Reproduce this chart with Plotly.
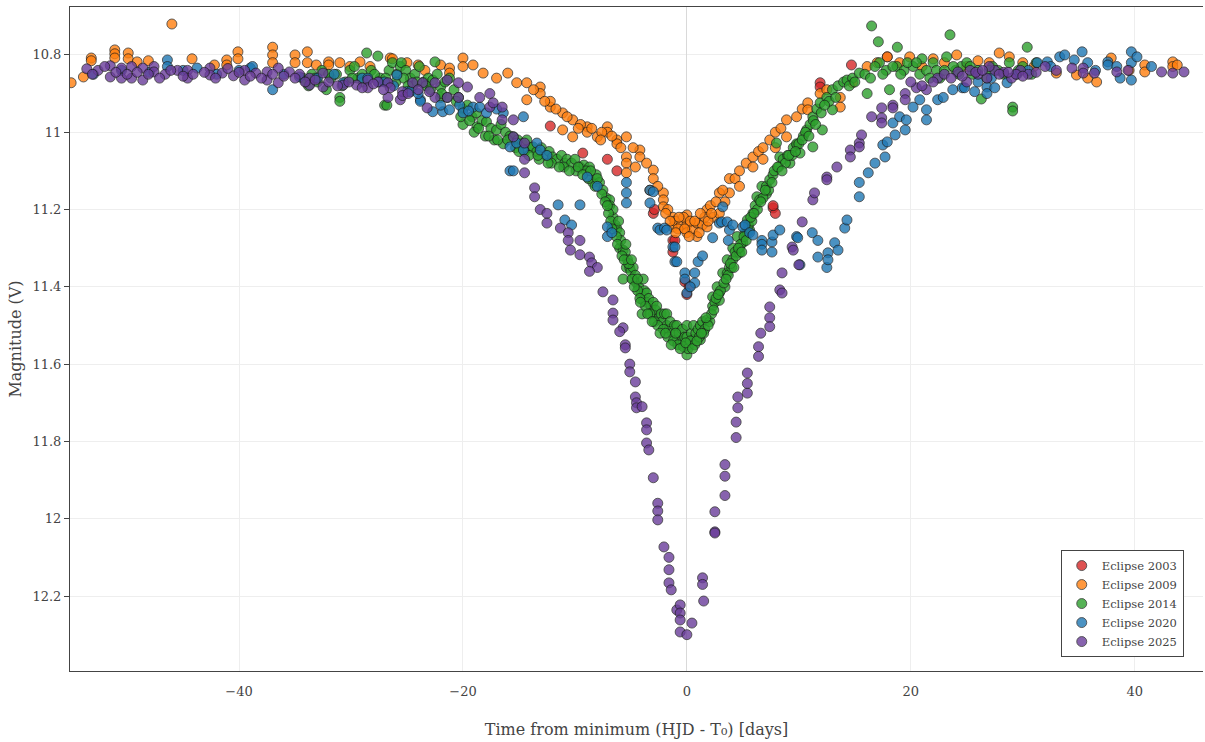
import plotly.graph_objects as go

# ---------------- data ----------------
x_2003 = [-12.2, -9.3, -7.1, -6.25, -3.0, -1.25, -1.07, -1.25, -0.18, 0.0,
          7.7, 7.9, 7.7, 9.8, 11.9, 11.9, 14.7, 17.9, -2.9, 0.2]
y_2003 = [10.984, 11.054, 11.07, 11.10, 11.21, 11.28, 11.28, 11.31, 11.387, 11.42,
          11.196, 11.21, 11.19, 11.033, 10.872, 10.883, 10.826, 10.805, 11.20, 11.40]

x_2009 = [-55.0, -53.9, -53.2, -53.2, -51.1, -51.1, -51.1, -49.9, -49.9, -49.1,
          -48.1, -46.0, -44.2, -42.2, -41.1, -41.1, -40.1, -40.1, -37.0, -37.0,
          -37.0, -35.0, -35.0, -33.9, -33.9, -33.1, -32.0, -32.0, -31.0, -30.1,
          -29.2, -28.3, -26.5, -26.3, -25.0, -24.0, -23.4, -22.0, -21.2, -21.2,
          -20.0, -20.0, -19.1, -18.2, -17.0, -16.0, -15.2, -14.3, -14.3, -13.1,
          -13.1, -12.2, -12.2, -11.1, -11.1, -10.2, -10.2, -8.9, -8.9, -8.0,
          -7.1, -7.1, -6.25, -6.25, -5.4, -5.4, -5.4, -5.4, -4.2, -4.2,
          -3.0, -3.0, -2.1, -2.1, -2.1, -1.25, -1.25, -1.07, -0.5, 0.0,
          0.0, 0.0, 0.5, 0.9, 0.9, 1.4, 1.8, 1.8, 2.4, 2.9,
          2.9, 3.4, 3.8, 3.8, 4.3, 4.7, 4.7, 5.3, 5.9, 5.9,
          6.4, 6.8, 6.8, 7.4, 7.9, 7.9, 8.4, 8.9, 8.9, 9.8,
          10.3, 10.8, 10.8, 11.9, 12.5, 13.7, 13.7, 14.8, 16.1, 17.0,
          17.9, 19.0, 19.9, 21.0, 22.0, 23.0, 24.1, 25.0, 26.0, 27.0,
          27.9, 28.8, 30.0, 31.0, 33.0, 34.8, 36.6, 37.9, 40.9, 40.9,
          43.4, 43.4, 43.8, 39.5, 35.8, -9.5, -7.6, -3.6, -2.6, -1.7,
          -0.8, -0.3, 0.3, 1.1, 1.6, 2.1, 2.6, 3.2, -4.8, -3.3,
          -1.9, -1.5, -1.0, -0.7, -0.2, 0.2, 0.7, 1.2, 1.9, 2.2,
          -13.7, -12.7, -11.7, -10.7, -9.7, -8.5, -7.7, -6.7, -5.9, -4.6]
y_2009 = [10.872, 10.857, 10.808, 10.815, 10.787, 10.797, 10.808, 10.795, 10.81, 10.818,
          10.815, 10.72, 10.81, 10.826, 10.813, 10.826, 10.792, 10.81, 10.78, 10.80,
          10.82, 10.80, 10.82, 10.792, 10.82, 10.826, 10.818, 10.826, 10.82, 10.83,
          10.818, 10.83, 10.808, 10.81, 10.82, 10.826, 10.84, 10.826, 10.834, 10.847,
          10.808, 10.83, 10.826, 10.847, 10.86, 10.847, 10.872, 10.872, 10.916, 10.883,
          10.90, 10.935, 10.92, 10.95, 10.994, 10.968, 11.012, 10.986, 11.0, 11.012,
          10.986, 11.0, 11.02, 11.03, 11.012, 11.064, 11.08, 11.105, 11.046, 11.064,
          11.098, 11.12, 11.157, 11.175, 11.193, 11.22, 11.245, 11.23, 11.24, 11.214,
          11.24, 11.26, 11.25, 11.235, 11.27, 11.24, 11.20, 11.245, 11.22, 11.157,
          11.21, 11.18, 11.12, 11.157, 11.12, 11.10, 11.14, 11.08, 11.064, 11.09,
          11.05, 11.04, 11.07, 11.02, 11.0, 11.04, 10.99, 10.968, 11.012, 10.96,
          10.94, 10.924, 10.942, 10.90, 10.89, 10.91, 10.935, 10.872, 10.83, 10.82,
          10.805, 10.82, 10.805, 10.83, 10.81, 10.82, 10.80, 10.83, 10.815, 10.82,
          10.795, 10.805, 10.82, 10.83, 10.847, 10.852, 10.87, 10.808, 10.826, 10.844,
          10.818, 10.83, 10.826, 10.84, 10.86, 10.98, 11.0, 11.08, 11.14, 11.20,
          11.25, 11.22, 11.23, 11.26, 11.22, 11.19, 11.18, 11.15, 11.04, 11.15,
          11.21, 11.23, 11.26, 11.22, 11.25, 11.27, 11.23, 11.21, 11.23, 11.21,
          10.89, 10.92, 10.94, 10.96, 10.99, 10.99, 11.02, 11.01, 11.04, 11.09]

x_2014 = [-34.3, -33.8, -33.5, -33.0, -32.6, -32.2, -31.8, -31.3, -31.0, -31.0,
          -30.5, -30.1, -29.7, -29.4, -29.0, -28.6, -28.2, -27.6, -27.4, -27.0,
          -26.8, -26.6, -26.3, -25.9, -25.6, -25.5, -25.1, -24.7, -24.5, -24.3,
          -23.9, -23.5, -23.1, -22.7, -22.5, -22.3, -22.0, -22.0, -21.6, -21.2,
          -20.8, -20.4, -20.0, -20.0, -19.6, -19.2, -18.8, -18.75, -18.3, -17.9,
          -17.5, -17.0, -16.6, -16.2, -15.8, -15.5, -15.1, -14.7, -14.3, -13.9,
          -13.75, -13.4, -13.0, -12.6, -12.3, -12.0, -11.6, -11.2, -10.9, -10.7,
          -10.3, -10.0, -9.55, -9.2, -8.7, -8.4, -8.1, -7.8, -7.5, -7.2,
          -6.9, -6.9, -6.6, -6.6, -6.4, -6.25, -6.0, -6.0, -5.9, -5.7,
          -5.7, -5.5, -5.4, -5.3, -5.1, -5.0, -4.8, -4.8, -4.6, -4.5,
          -4.3, -4.1, -4.0, -3.9, -3.9, -3.8, -3.6, -3.6, -3.4, -3.2,
          -3.0, -3.0, -2.8, -2.7, -2.5, -2.3, -2.2, -2.0, -1.8, -1.8,
          -1.6, -1.5, -1.3, -1.1, -0.9, -0.9, -0.7, -0.5, -0.4, -0.2,
          0.0, 0.0, 0.0, 0.2, 0.4, 0.6, 0.6, 0.8, 1.0, 1.2,
          1.2, 1.4, 1.6, 1.8, 2.05, 2.3, 2.3, 2.5, 2.7, 2.9,
          2.9, 3.2, 3.4, 3.6, 3.6, 3.8, 4.1, 4.1, 4.3, 4.5,
          4.7, 4.7, 5.0, 5.2, 5.4, 5.4, 5.6, 5.9, 6.1, 6.25,
          6.5, 6.7, 7.1, 7.1, 7.4, 7.7, 8.0, 8.3, 8.6, 9.0,
          9.2, 9.5, 9.8, 10.1, 10.4, 10.7, 11.0, 11.25, 11.25, 11.6,
          11.9, 12.1, 12.5, 13.0, 13.0, 13.5, 14.0, 14.3, 14.8, 15.4,
          16.1, 16.5, 17.1, 17.2, 17.8, 18.1, 18.75, 18.8, 19.4, 20.2,
          20.8, 21.4, 22.0, 22.6, 23.2, 23.5, 24.0, 24.5, 25.0, 25.5,
          26.0, 26.3, 26.8, 27.3, 27.8, 28.3, 28.8, 29.1, 29.1, 29.6,
          30.0, 30.4, 30.8, 31.2, 15.9, 16.8, 19.7, 21.0, 22.3, 23.8,
          -9.0, -8.8, -8.2, -7.6, -7.0, -6.8, -6.3, -5.8, -5.2, -4.9,
          -4.4, -4.2, -3.7, -3.3, -2.9, -2.6, -2.1, -1.7, -1.2, -0.8,
          -0.3, 0.1, 0.3, 0.7, 1.1, 1.5, 1.9, 2.2, 2.6, 3.0,
          3.3, 3.7, 4.0, 4.4, 4.8, 5.1, 5.5, 5.8, 6.3, 6.8,
          7.3, 7.8, 8.2, 8.8, 9.4, 10.0, 10.6, 11.3, 12.0, 12.7,
          -19.0, -18.0, -17.2, -16.4, -15.3, -14.5, -13.2, -12.1, -11.0, -9.9,
          -34.0, -33.2, -32.0, -30.8, -29.9, -28.9, -27.9, -26.9, -26.0, -25.3,
          -24.9, -24.1, -23.3, -22.9, -21.9, -21.4, -20.6, -20.2, -19.4, -18.6,
          -17.7, -16.9, -16.0, -15.0, -14.1, -13.3, -12.4, -11.4, -10.5, -9.7,
          -9.3, -8.6, -8.0, -7.3, -7.1, -6.7, -6.2, -6.1, -5.6, -5.45,
          -4.95, -4.7, -4.4, -4.15, -3.5, -3.1, -2.4, -1.9, -1.4, -1.0,
          -0.6, -0.1, 0.5, 0.9, 1.3, 1.7, 2.4, 2.8, 3.5, 3.9,
          4.2, 4.6, 4.9, 5.3, 5.7, 6.0, 6.6, 7.0, 7.6, 8.1,
          8.5, 9.1, 9.7, 10.3, 10.9, 11.5, 12.3, 13.3, 14.5, 15.0,
          16.4, 17.5, 18.4, 19.1, 20.5, 21.7, 23.0, 24.3, 25.3, 27.0]
y_2014 = [10.86, 10.88, 10.85, 10.87, 10.84, 10.89, 10.86, 10.85, 10.91, 10.92,
          10.87, 10.84, 10.83, 10.86, 10.85, 10.795, 10.84, 10.803, 10.86, 10.93,
          10.93, 10.84, 10.82, 10.85, 10.83, 10.82, 10.84, 10.86, 10.88, 10.85,
          10.83, 10.87, 10.86, 10.865, 10.818, 10.85, 10.883, 10.91, 10.87, 10.86,
          10.89, 10.91, 10.94, 10.98, 10.93, 10.96, 10.95, 10.986, 10.97, 10.973,
          10.99, 10.994, 10.98, 11.0, 11.01, 11.012, 11.02, 11.03, 11.02, 11.04,
          11.038, 11.05, 11.04, 11.06, 11.05, 11.064, 11.07, 11.06, 11.08, 11.07,
          11.08, 11.07, 11.09, 11.085, 11.09, 11.13, 11.11, 11.13, 11.15, 11.17,
          11.175, 11.19, 11.22, 11.20, 11.24, 11.25, 11.26, 11.30, 11.28, 11.305,
          11.38, 11.31, 11.35, 11.33, 11.35, 11.36, 11.35, 11.38, 11.37, 11.39,
          11.40, 11.42, 11.47, 11.38, 11.435, 11.41, 11.416, 11.44, 11.43, 11.45,
          11.47, 11.44, 11.46, 11.45, 11.48, 11.47, 11.49, 11.47, 11.47, 11.50,
          11.51, 11.49, 11.52, 11.50, 11.537, 11.50, 11.52, 11.54, 11.51, 11.53,
          11.576, 11.50, 11.53, 11.55, 11.52, 11.537, 11.50, 11.52, 11.51, 11.50,
          11.537, 11.49, 11.51, 11.486, 11.49, 11.45, 11.426, 11.44, 11.40, 11.416,
          11.435, 11.364, 11.40, 11.365, 11.33, 11.35, 11.33, 11.30, 11.31, 11.27,
          11.30, 11.312, 11.286, 11.26, 11.26, 11.227, 11.253, 11.21, 11.19, 11.167,
          11.175, 11.14, 11.14, 11.16, 11.123, 11.11, 11.028, 11.064, 11.07, 11.06,
          11.08, 11.04, 11.03, 11.054, 11.01, 10.994, 10.98, 10.96, 11.038, 10.94,
          10.924, 10.994, 10.91, 10.89, 10.942, 10.88, 10.87, 10.865, 10.86, 10.847,
          10.90, 10.725, 10.766, 10.82, 10.84, 10.89, 10.83, 10.78, 10.84, 10.83,
          10.85, 10.84, 10.82, 10.86, 10.805, 10.748, 10.84, 10.83, 10.82, 10.85,
          10.84, 10.914, 10.86, 10.83, 10.84, 10.85, 10.82, 10.935, 10.945, 10.84,
          10.83, 10.78, 10.85, 10.82, 10.85, 10.83, 10.82, 10.81, 10.84, 10.83,
          11.10, 11.12, 11.14, 11.16, 11.21, 11.23, 11.27, 11.32, 11.34, 11.38,
          11.41, 11.43, 11.45, 11.47, 11.49, 11.50, 11.51, 11.53, 11.54, 11.55,
          11.555, 11.56, 11.54, 11.55, 11.53, 11.52, 11.50, 11.47, 11.43, 11.41,
          11.39, 11.37, 11.35, 11.32, 11.29, 11.27, 11.24, 11.23, 11.20, 11.17,
          11.15, 11.10, 11.09, 11.08, 11.06, 11.03, 11.0, 10.97, 10.95, 10.92,
          11.0, 11.01, 11.02, 11.03, 11.04, 11.05, 11.07, 11.08, 11.09, 11.10,
          10.87, 10.86, 10.85, 10.88, 10.86, 10.87, 10.85, 10.86, 10.87, 10.86,
          10.88, 10.87, 10.88, 10.89, 10.90, 10.91, 10.92, 10.96, 10.97, 10.99,
          11.01, 11.02, 11.02, 11.05, 11.06, 11.06, 11.08, 11.09, 11.10, 11.09,
          11.11, 11.10, 11.12, 11.18, 11.19, 11.25, 11.29, 11.23, 11.33, 11.29,
          11.33, 11.40, 11.38, 11.44, 11.47, 11.49, 11.52, 11.52, 11.55, 11.52,
          11.56, 11.545, 11.56, 11.54, 11.52, 11.48, 11.46, 11.42, 11.38, 11.34,
          11.35, 11.30, 11.31, 11.28, 11.22, 11.21, 11.18, 11.15, 11.13, 11.09,
          11.10, 11.06, 11.05, 11.02, 11.01, 10.98, 10.93, 10.91, 10.88, 10.87,
          10.86, 10.85, 10.83, 10.85, 10.82, 10.86, 10.84, 10.85, 10.83, 10.84]

x_2020 = [-53.0, -50.5, -48.0, -46.4, -46.4, -45.0, -43.75, -42.0, -40.0, -39.0,
          -38.8, -37.0, -36.0, -34.6, -33.0, -31.5, -30.7, -29.0, -27.5, -25.9,
          -25.0, -24.7, -23.8, -23.8, -22.7, -21.8, -21.2, -20.3, -20.0, -19.1,
          -18.5, -17.9, -16.4, -15.8, -15.8, -15.5, -15.2, -14.6, -14.6, -13.4,
          -13.1, -11.5, -10.9, -10.3, -9.55, -8.9, -8.0, -7.1, -7.1, -5.4,
          -5.4, -5.4, -3.3, -3.3, -3.0, -2.6, -2.4, -2.0, -1.8, -1.25,
          -1.07, -1.07, -0.9, -0.18, -0.18, 0.0, 0.7, 0.7, 1.0, 1.4,
          2.3, 2.9, 3.1, 3.2, 3.6, 3.7, 3.8, 4.1, 5.0, 5.2,
          5.6, 5.9, 6.7, 6.7, 6.7, 7.6, 7.6, 7.7, 8.3, 9.8,
          9.9, 10.1, 11.2, 11.7, 11.7, 12.5, 12.6, 12.6, 13.2, 13.5,
          14.1, 14.3, 15.4, 15.4, 16.2, 16.8, 17.5, 17.7, 17.9, 18.4,
          18.6, 19.0, 19.5, 19.6, 20.2, 20.8, 21.4, 21.4, 22.4, 23.75,
          24.6, 24.8, 25.7, 26.8, 26.8, 27.5, 28.6, 31.3, 32.2, 33.3,
          33.75, 34.6, 35.3, 35.8, 37.6, 37.6, 38.4, 38.7, 39.7, 39.7,
          39.7, 40.2, 29.5, 30.5, 32.5, 36.5, 41.5, 26.0, 27.2, 22.9,
          -28.5, -27.0, -26.2, -24.0, -22.0, -19.5, -17.0, -12.5, -6.7, 0.3]
y_2020 = [10.85, 10.84, 10.845, 10.813, 10.83, 10.84, 10.834, 10.85, 10.84, 10.834,
          10.83, 10.89, 10.85, 10.857, 10.86, 10.85, 10.872, 10.86, 10.87, 10.852,
          10.895, 10.895, 10.916, 10.92, 10.947, 10.947, 10.942, 10.93, 10.95, 10.935,
          10.935, 10.95, 10.95, 11.038, 11.10, 11.10, 11.028, 10.96, 11.046, 11.028,
          11.046, 11.188, 11.227, 11.24, 11.188, 11.116, 11.14, 11.245, 11.27, 11.13,
          11.157, 11.183, 11.15, 11.183, 11.154, 11.248, 11.253, 11.248, 11.253, 11.297,
          11.297, 11.335, 11.335, 11.364, 11.38, 11.416, 11.364, 11.39, 11.335, 11.32,
          11.273, 11.235, 11.232, 11.193, 11.232, 11.28, 11.253, 11.24, 11.245, 11.24,
          11.26, 11.266, 11.28, 11.29, 11.305, 11.284, 11.31, 11.266, 11.253, 11.27,
          11.273, 11.343, 11.26, 11.28, 11.323, 11.35, 11.312, 11.33, 11.286, 11.305,
          11.248, 11.227, 11.13, 11.167, 11.105, 11.08, 11.033, 11.064, 11.025, 10.976,
          11.007, 10.96, 10.994, 10.968, 10.935, 10.916, 10.942, 10.968, 10.916, 10.89,
          10.885, 10.885, 10.895, 10.883, 10.9, 10.885, 10.872, 10.82, 10.818, 10.805,
          10.80, 10.813, 10.792, 10.82, 10.818, 10.826, 10.83, 10.86, 10.792, 10.865,
          10.82, 10.805, 10.85, 10.84, 10.83, 10.84, 10.83, 10.87, 10.86, 10.91,
          10.86, 10.87, 10.88, 10.90, 10.93, 10.945, 10.94, 11.06, 11.26, 11.40]

x_2025 = [-53.6, -52.6, -51.5, -51.5, -50.5, -50.5, -49.6, -49.6, -48.6, -48.6,
          -47.6, -47.6, -46.6, -45.5, -44.6, -44.6, -42.6, -42.6, -41.5, -40.5,
          -39.5, -39.5, -38.5, -37.5, -37.5, -36.5, -36.5, -35.5, -34.6, -33.7,
          -33.7, -32.5, -32.5, -30.7, -29.5, -28.5, -28.5, -27.6, -26.7, -26.5,
          -26.7, -25.6, -25.4, -25.4, -24.5, -23.6, -23.2, -22.5, -22.5, -21.4,
          -21.4, -20.4, -20.4, -19.6, -18.5, -17.6, -17.6, -17.3, -16.5, -16.5,
          -15.5, -15.5, -14.5, -14.5, -14.5, -13.6, -13.6, -13.1, -12.5, -12.5,
          -11.3, -10.6, -10.6, -10.4, -9.55, -9.55, -8.7, -8.5, -8.0, -8.7,
          -7.5, -6.6, -6.6, -6.6, -5.7, -6.0, -5.5, -5.5, -5.1, -5.1,
          -4.6, -4.6, -4.5, -4.5, -4.0, -3.6, -3.6, -3.6, -3.4, -3.0,
          -2.6, -2.6, -2.6, -2.05, -1.6, -1.6, -1.6, -1.4, -0.9, -0.6,
          -0.6, -0.6, -0.6, 0.0, 0.45, 1.4, 1.4, 1.5, 2.5, 2.5,
          2.5, 3.4, 3.4, 3.4, 4.4, 4.4, 4.55, 4.55, 5.4, 5.4,
          5.4, 6.4, 6.4, 6.6, 7.4, 7.4, 7.4, 8.3, 8.5, 8.5,
          9.4, 9.5, 10.0, 10.3, 11.25, 11.4, 12.5, 12.5, 13.4, 14.6,
          14.6, 15.4, 15.4, 15.6, 16.5, 17.4, 17.4, 17.4, 18.4, 18.4,
          19.5, 19.5, 20.5, 21.4, 22.4, 24.2, 25.3, 26.0, 26.8, 27.5,
          28.3, 29.0, 29.8, 30.5, 31.2, 32.0, 33.0, 34.4, 35.4, 35.4,
          36.4, 38.4, 39.4, 42.4, 43.4, 44.4, 23.0, 25.0, 27.0, 29.4,
          -53.1, -52.0, -51.0, -50.0, -49.1, -48.1, -47.1, -46.1, -45.0, -44.1,
          -43.1, -42.1, -41.0, -40.0, -39.0, -38.0, -37.0, -36.0, -35.0, -34.1,
          -33.2, -32.0, -31.2, -30.2, -29.0, -28.0, -27.1, -24.9, -24.0, -23.0,
          20.0, 21.0, 22.0, 23.6, 24.6, 25.8, 26.4, 27.9, 28.7, 30.0]
y_2025 = [10.836, 10.84, 10.828, 10.857, 10.834, 10.86, 10.83, 10.86, 10.834, 10.865,
          10.83, 10.844, 10.85, 10.84, 10.84, 10.86, 10.834, 10.852, 10.847, 10.854,
          10.84, 10.865, 10.847, 10.844, 10.865, 10.834, 10.872, 10.844, 10.85, 10.86,
          10.878, 10.847, 10.883, 10.878, 10.878, 10.865, 10.885, 10.87, 10.872, 10.885,
          10.91, 10.916, 10.895, 10.905, 10.872, 10.872, 10.937, 10.872, 10.91, 10.865,
          10.91, 10.872, 10.91, 10.883, 10.91, 10.90, 10.935, 10.924, 10.935, 10.968,
          10.968, 11.012, 11.028, 11.07, 11.105, 11.144, 11.167, 11.2, 11.21, 11.235,
          11.248, 11.26, 11.28, 11.305, 11.28, 11.317, 11.323, 11.338, 11.35, 11.36,
          11.413, 11.434, 11.468, 11.486, 11.506, 11.516, 11.55, 11.558, 11.60, 11.62,
          11.646, 11.685, 11.70, 11.713, 11.71, 11.752, 11.77, 11.804, 11.822, 11.894,
          11.96, 11.98, 12.003, 12.073, 12.10, 12.132, 12.166, 12.184, 12.236, 12.223,
          12.244, 12.262, 12.293, 12.30, 12.27, 12.153, 12.17, 12.213, 12.034, 11.982,
          12.037, 11.86, 11.89, 11.94, 11.75, 11.79, 11.713, 11.685, 11.623, 11.675,
          11.65, 11.555, 11.58, 11.52, 11.452, 11.48, 11.503, 11.408, 11.364, 11.416,
          11.297, 11.305, 11.343, 11.232, 11.175, 11.157, 11.116, 11.123, 11.09, 11.046,
          11.064, 11.028, 11.038, 11.007, 10.96, 10.937, 10.963, 10.976, 10.93, 10.937,
          10.90, 10.916, 10.885, 10.89, 10.86, 10.844, 10.84, 10.85, 10.86, 10.84,
          10.845, 10.86, 10.84, 10.85, 10.845, 10.83, 10.84, 10.834, 10.834, 10.847,
          10.847, 10.844, 10.84, 10.844, 10.847, 10.844, 10.85, 10.87, 10.83, 10.85,
          10.85, 10.83, 10.845, 10.85, 10.845, 10.85, 10.86, 10.84, 10.855, 10.85,
          10.845, 10.86, 10.835, 10.845, 10.855, 10.86, 10.85, 10.855, 10.86, 10.87,
          10.865, 10.87, 10.88, 10.87, 10.885, 10.875, 10.89, 10.90, 10.89, 10.895,
          10.87, 10.88, 10.87, 10.86, 10.855, 10.845, 10.84, 10.85, 10.845, 10.855]

series_names = ["Eclipse 2003", "Eclipse 2009", "Eclipse 2014", "Eclipse 2020", "Eclipse 2025"]
series_colors = ["#d62728", "#ff7f0e", "#2ca02c", "#1f77b4", "#6a3d9a"]
series_x = [x_2003, x_2009, x_2014, x_2020, x_2025]
series_y = [y_2003, y_2009, y_2014, y_2020, y_2025]

# ---------------- figure ----------------
FONT = "DejaVu Serif"
fig = go.Figure()
for name, color, xs, ys in zip(series_names, series_colors, series_x, series_y):
    fig.add_trace(go.Scatter(
        x=xs, y=ys, mode="markers", name=name,
        marker=dict(size=10, color=color, opacity=0.8,
                    line=dict(width=1, color="rgba(25,25,25,0.85)")),
    ))

fig.update_layout(
    width=1205, height=742,
    margin=dict(l=70, r=2, t=7, b=71),
    paper_bgcolor="white", plot_bgcolor="white",
    font=dict(family=FONT, size=13, color="#444"),
    legend=dict(x=0.983, y=0.021, xanchor="right", yanchor="bottom",
                bgcolor="white", bordercolor="#444", borderwidth=1,
                font=dict(family=FONT, size=11.5, color="#444")),
    xaxis=dict(
        range=[-55.1, 46.1], dtick=20,
        showgrid=True, gridcolor="#eeeeee",
        zeroline=True, zerolinecolor="#d9d9d9", zerolinewidth=1,
        showline=True, linecolor="#444", linewidth=1, mirror=True,
        ticks="outside", ticklen=8, tickcolor="rgba(0,0,0,0)",
        tickfont=dict(size=13, color="#444"),
        title=dict(text="Time from minimum (HJD - T₀) [days]",
                   font=dict(size=16, color="#444"), standoff=26),
    ),
    yaxis=dict(
        range=[12.394, 10.676], dtick=0.2,
        showgrid=True, gridcolor="#eeeeee", zeroline=False,
        showline=True, linecolor="#444", linewidth=1,
        ticks="outside", ticklen=5, tickcolor="#444",
        tickfont=dict(size=13, color="#444"),
        title=dict(text="Magnitude (V)", font=dict(size=16, color="#444"), standoff=6),
    ),
)

# remove the default page margin so the figure sits at the window's top-left corner
fig.write_html("out.html", config={"displayModeBar": False},
               post_script="document.body.style.margin='0px';")
